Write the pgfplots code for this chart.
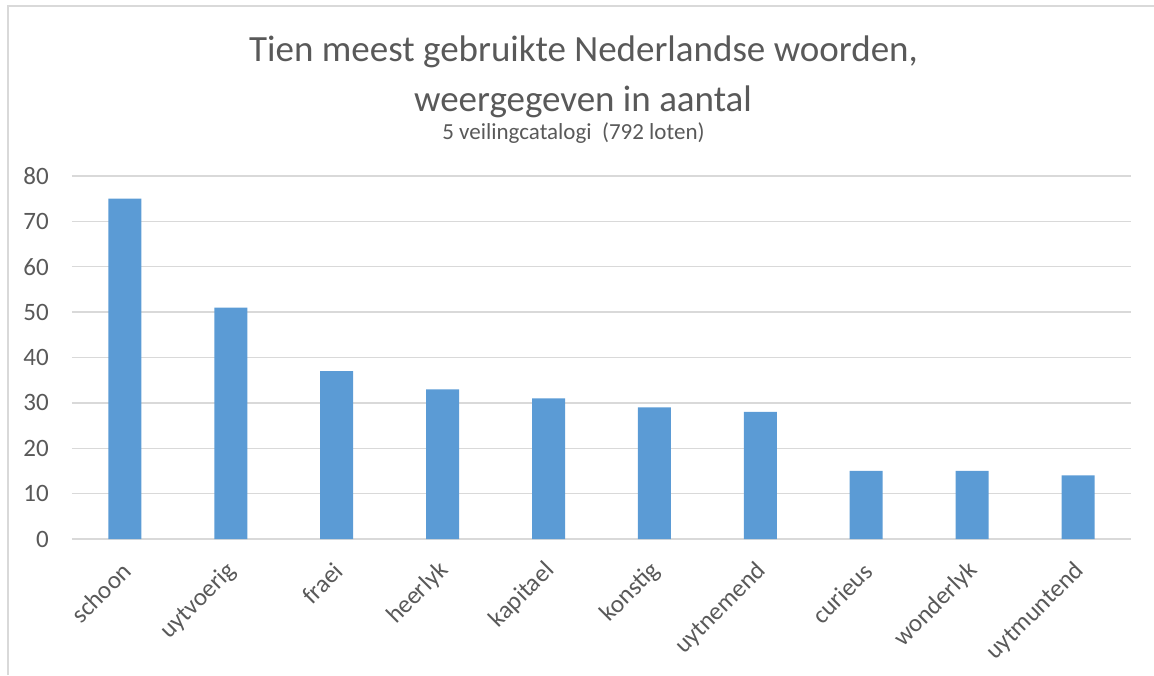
\documentclass[border=0pt]{standalone}
\usepackage{pgfplots}
\pgfplotsset{compat=1.18}
\usepackage{fontspec}
\setmainfont{Carlito}
\definecolor{barblue}{HTML}{5B9BD5}
\definecolor{gridgray}{HTML}{D9D9D9}
\definecolor{txtgray}{HTML}{595959}
\begin{document}
\begin{tikzpicture}[x=1pt,y=1pt]
\path[use as bounding box] (0,0) rectangle (1154,675);
\draw[gridgray, line width=1.5pt] (8,0) -- (8,669) -- (1154,669);
\node[anchor=base, text=txtgray, font=\fontsize{37}{44}\selectfont, inner sep=0] at (583.5,613) {Tien meest gebruikte Nederlandse woorden,};
\node[anchor=base, text=txtgray, font=\fontsize{37}{44}\selectfont, inner sep=0] at (583,563) {weergegeven in aantal};
\node[anchor=base, text=txtgray, font=\fontsize{23}{27}\selectfont, inner sep=0] at (573.5,535) {5 veilingcatalogi\ \ (792 loten)};
\begin{axis}[
  at={(72pt,136pt)}, anchor=south west,
  scale only axis, width=1059pt, height=363pt,
  xmin=-0.5, xmax=9.5, ymin=0, ymax=80,
  ybar, bar width=33pt, bar shift=0pt,
  axis x line*=bottom, axis y line*=left,
  x axis line style={gridgray, line width=1.5pt},
  y axis line style={draw=none},
  ymajorgrids, grid style={gridgray, line width=1.3pt},
  ytick={0,10,...,80},
  xtick={0,...,9},
  xticklabels={schoon,uytvoerig,fraei,heerlyk,kapitael,konstig,uytnemend,curieus,wonderlyk,uytmuntend},
  major tick length=0pt,
  yticklabel style={anchor=east, inner sep=0pt, xshift=-23pt, text=txtgray, font=\fontsize{25}{29}\selectfont},
  xticklabel style={anchor=east, inner sep=0pt, xshift=2pt, yshift=-28pt, rotate=45, text=txtgray, font=\fontsize{25}{29}\selectfont},
  /pgf/number format/assume math mode=true,
  clip=false,
]
\addplot[fill=barblue, draw=none] coordinates {(0,75) (1,51) (2,37) (3,33) (4,31) (5,29) (6,28) (7,15) (8,15) (9,14)};
\end{axis}
\end{tikzpicture}
\end{document}
